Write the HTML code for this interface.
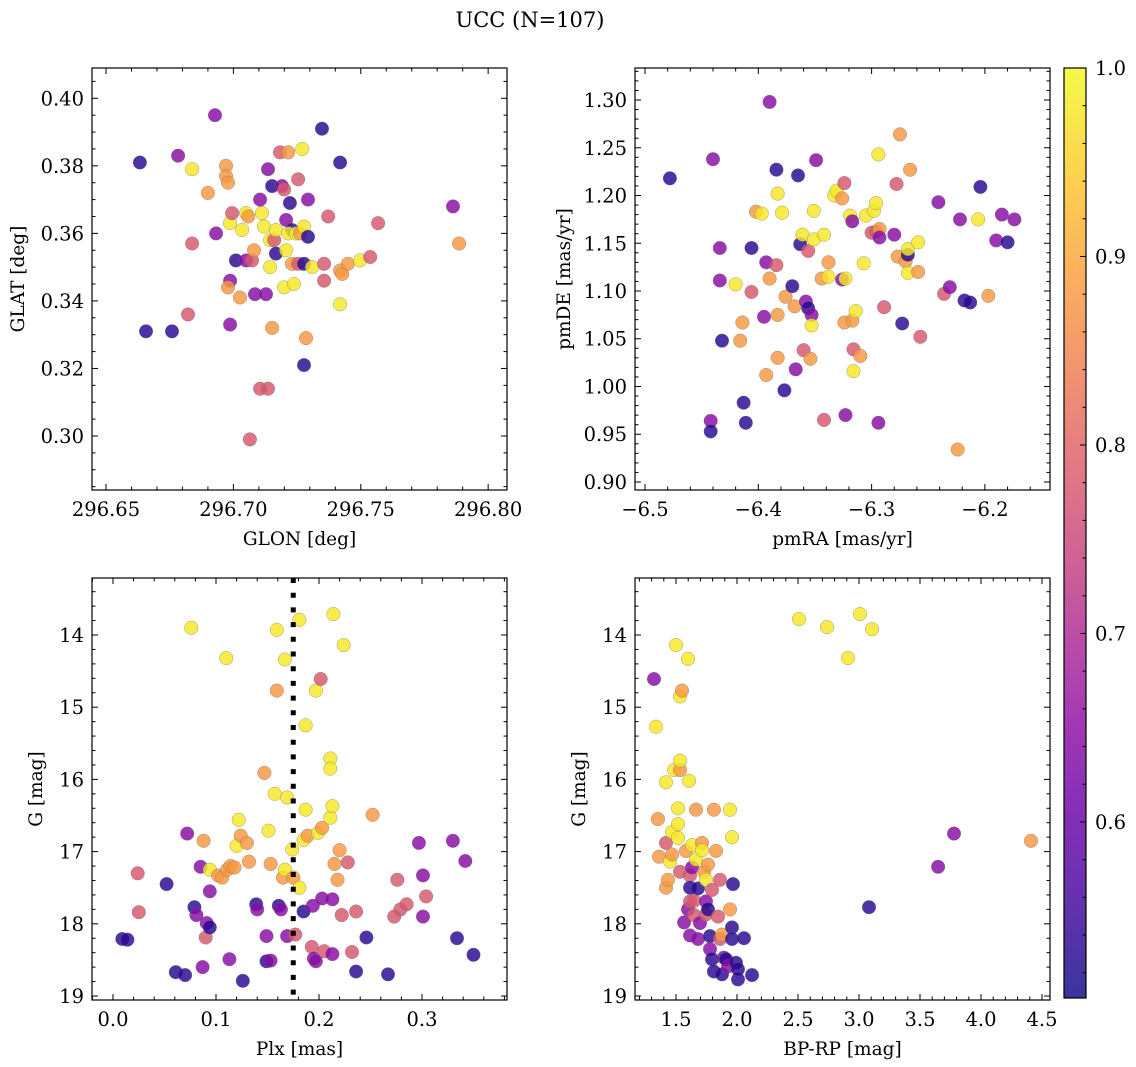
<!DOCTYPE html>
<html><head><meta charset="utf-8"><title>UCC (N=107)</title>
<style>
html,body{margin:0;padding:0;background:#fff;}
svg{display:block;font-family:"DejaVu Serif","Liberation Serif",serif;}
</style></head>
<body>
<svg id="fig" width="1136" height="1067" viewBox="0 0 1136 1067" xmlns="http://www.w3.org/2000/svg">
<text x="530" y="27" text-anchor="middle" font-size="21">UCC (N=107)</text>
</svg>
<script>
// ---- data: membership probability codes ----
const B=0.53,P=0.645,K=0.78,O=0.88,Y=0.98;
// Panel 1: GLON / GLAT
const glon1=[296.6633,296.6657,296.6759,296.6783,296.6838,296.6838,296.6822,296.6900,296.6928,296.6932,296.6971,296.6971,296.6979,296.6987,296.6995,296.6987,296.6979,296.6987,296.7010,296.7026,296.7034,296.7050,296.7058,296.7065,296.7050,296.7073,296.7081,296.7085,296.7105,296.7112,296.7120,296.7105,296.7128,296.7136,296.7144,296.7152,296.7136,296.7152,296.7144,296.7167,296.7160,296.7167,296.7183,296.7191,296.7199,296.7207,296.7215,296.7207,296.7199,296.7222,296.7230,296.7215,296.7230,296.7238,296.7246,296.7254,296.7254,296.7262,296.7270,296.7277,296.7277,296.7285,296.7277,296.7293,296.7293,296.7309,296.7348,296.7356,296.7356,296.7372,296.7419,296.7419,296.7419,296.7427,296.7450,296.7497,296.7537,296.7568,296.7862,296.7886];
const glat1=[0.381,0.331,0.331,0.383,0.379,0.357,0.336,0.372,0.395,0.360,0.380,0.377,0.375,0.363,0.366,0.346,0.344,0.333,0.352,0.341,0.361,0.366,0.365,0.299,0.352,0.352,0.355,0.342,0.370,0.366,0.362,0.314,0.342,0.314,0.358,0.332,0.379,0.374,0.350,0.354,0.358,0.361,0.384,0.374,0.373,0.364,0.384,0.355,0.344,0.369,0.361,0.360,0.351,0.345,0.360,0.376,0.351,0.360,0.385,0.351,0.362,0.329,0.321,0.370,0.359,0.350,0.391,0.351,0.346,0.365,0.381,0.349,0.339,0.348,0.351,0.352,0.353,0.363,0.368,0.357];
const prob1=[B,B,B,P,Y,K,K,O,P,P,O,O,O,Y,K,P,O,P,B,O,Y,Y,O,K,P,K,O,P,P,Y,Y,K,P,K,Y,O,P,B,Y,B,K,Y,K,P,K,P,O,Y,Y,B,B,Y,O,Y,Y,K,K,O,Y,B,Y,O,B,P,B,Y,B,K,K,K,B,O,Y,O,O,Y,K,K,P,O];
// Panel 2: pmRA / pmDE
const pmra2=[-6.478,-6.440,-6.442,-6.442,-6.434,-6.434,-6.432,-6.420,-6.416,-6.414,-6.413,-6.411,-6.406,-6.406,-6.402,-6.397,-6.395,-6.393,-6.393,-6.390,-6.390,-6.384,-6.384,-6.383,-6.383,-6.383,-6.379,-6.377,-6.376,-6.370,-6.368,-6.367,-6.365,-6.363,-6.361,-6.360,-6.358,-6.356,-6.356,-6.354,-6.353,-6.353,-6.351,-6.351,-6.349,-6.344,-6.342,-6.342,-6.338,-6.338,-6.333,-6.331,-6.326,-6.324,-6.326,-6.323,-6.324,-6.323,-6.319,-6.317,-6.317,-6.316,-6.316,-6.314,-6.310,-6.307,-6.305,-6.300,-6.298,-6.296,-6.296,-6.294,-6.294,-6.293,-6.293,-6.289,-6.280,-6.278,-6.277,-6.275,-6.273,-6.270,-6.268,-6.268,-6.268,-6.266,-6.259,-6.259,-6.257,-6.241,-6.236,-6.231,-6.224,-6.222,-6.218,-6.213,-6.206,-6.204,-6.197,-6.190,-6.185,-6.180,-6.174];
const pmde2=[1.218,1.238,0.964,0.953,1.145,1.111,1.048,1.107,1.048,1.067,0.983,0.962,1.099,1.145,1.183,1.181,1.073,1.012,1.130,1.298,1.113,1.227,1.127,1.202,1.075,1.030,1.182,0.996,1.094,1.105,1.084,1.018,1.221,1.149,1.159,1.038,1.089,1.082,1.142,1.029,1.075,1.064,1.184,1.154,1.237,1.113,0.965,1.159,1.115,1.130,1.200,1.205,1.197,1.213,1.112,1.113,1.067,0.970,1.179,1.173,1.069,1.039,1.016,1.079,1.032,1.129,1.179,1.161,1.184,1.192,1.162,1.243,0.962,1.165,1.156,1.083,1.159,1.212,1.136,1.264,1.066,1.131,1.138,1.144,1.119,1.227,1.151,1.120,1.052,1.193,1.097,1.104,0.934,1.175,1.090,1.088,1.175,1.209,1.095,1.153,1.180,1.151,1.175];
const prob2=[B,P,P,B,P,P,B,Y,O,O,B,B,K,B,O,Y,P,O,P,P,O,B,K,Y,O,O,Y,B,O,B,O,P,B,B,Y,K,P,B,K,O,P,Y,Y,Y,P,O,K,Y,Y,O,Y,Y,O,K,P,Y,O,P,Y,P,O,K,Y,Y,O,Y,Y,K,Y,Y,K,Y,P,O,P,K,P,K,O,O,B,O,B,Y,Y,O,Y,O,K,P,K,P,O,P,B,B,Y,B,O,P,P,B,P];
// Panel 3: Plx / G
const plx3=[0.009,0.014,0.024,0.025,0.052,0.061,0.070,0.072,0.076,0.079,0.081,0.085,0.087,0.088,0.090,0.091,0.094,0.094,0.094,0.102,0.106,0.110,0.111,0.113,0.114,0.118,0.120,0.122,0.124,0.126,0.130,0.132,0.139,0.140,0.147,0.149,0.149,0.151,0.153,0.153,0.157,0.159,0.159,0.161,0.163,0.165,0.167,0.167,0.169,0.169,0.174,0.175,0.177,0.181,0.181,0.185,0.185,0.187,0.187,0.189,0.193,0.194,0.195,0.197,0.197,0.199,0.2016,0.203,0.203,0.205,0.211,0.211,0.211,0.213,0.213,0.213,0.214,0.215,0.218,0.220,0.222,0.224,0.228,0.232,0.236,0.236,0.246,0.252,0.267,0.273,0.276,0.279,0.285,0.297,0.301,0.301,0.304,0.330,0.334,0.342,0.350];
const gmag3=[18.21,18.22,17.30,17.84,17.45,18.67,18.71,16.75,13.90,17.77,17.88,17.21,18.60,16.85,18.19,17.99,18.05,17.55,17.25,17.33,17.36,14.32,17.25,18.49,17.20,17.22,16.92,16.56,16.78,18.79,16.88,17.14,17.73,17.80,15.91,18.17,18.52,16.71,18.51,17.17,16.20,13.93,14.77,17.75,17.80,17.36,17.25,14.34,16.25,18.17,16.97,17.36,18.15,13.79,17.50,16.84,17.83,16.42,15.25,16.78,18.32,17.75,18.48,18.52,14.77,16.74,14.61,16.67,17.65,18.38,15.71,15.85,16.53,16.37,17.66,18.42,13.71,17.17,17.39,16.98,17.88,14.14,17.15,18.39,17.83,18.66,18.19,16.49,18.70,17.90,17.39,17.80,17.73,16.88,17.33,17.90,17.62,16.85,18.20,17.13,18.43];
const prob3=[B,B,K,K,B,B,B,P,Y,B,P,P,P,O,K,P,B,P,Y,O,O,Y,O,P,O,O,Y,Y,O,B,O,O,B,P,O,P,B,Y,P,O,Y,Y,O,B,P,O,Y,Y,Y,P,Y,O,K,Y,Y,Y,B,Y,Y,O,K,P,P,P,Y,Y,K,O,P,K,Y,Y,Y,Y,P,P,Y,O,O,O,K,Y,K,K,K,B,B,O,B,K,K,K,K,P,P,P,K,P,B,P,B];
const plxLine=0.175;
// Panel 4: BP-RP / G
const bprp4=[1.320,1.336,1.352,1.361,1.418,1.418,1.418,1.434,1.451,1.467,1.467,1.484,1.500,1.516,1.516,1.516,1.533,1.533,1.533,1.533,1.549,1.566,1.582,1.598,1.598,1.607,1.615,1.615,1.615,1.615,1.631,1.631,1.648,1.648,1.664,1.664,1.680,1.680,1.697,1.713,1.713,1.730,1.746,1.746,1.746,1.762,1.762,1.779,1.779,1.795,1.795,1.811,1.811,1.828,1.844,1.861,1.861,1.877,1.877,1.893,1.910,1.926,1.943,1.943,1.959,1.959,1.967,1.959,1.992,2.008,2.008,2.057,2.123,2.508,2.738,2.910,3.008,3.082,3.107,3.648,3.779,4.410];
const gmag4=[14.61,15.27,16.55,17.07,16.04,16.88,17.50,17.39,17.14,16.73,17.04,15.87,14.14,16.40,16.62,16.81,15.87,15.74,14.85,17.28,14.77,17.98,16.99,14.33,17.80,16.02,18.16,17.33,17.50,17.69,16.91,17.22,17.68,17.88,16.42,17.11,17.51,18.21,17.99,16.88,16.98,17.28,17.39,17.69,17.87,17.18,17.80,18.17,18.35,18.49,17.53,16.42,18.66,16.99,17.90,18.21,17.39,18.15,18.70,18.47,18.49,18.59,17.80,16.42,18.05,18.21,17.45,16.80,18.54,18.77,18.63,18.20,18.71,13.78,13.89,14.32,13.71,17.77,13.92,17.21,16.75,16.85];
const prob4=[P,Y,O,O,Y,K,O,O,Y,Y,O,Y,Y,Y,Y,Y,O,Y,Y,K,O,P,O,Y,P,Y,P,K,B,K,Y,P,K,K,O,Y,B,P,P,O,Y,O,Y,P,K,O,B,B,P,B,K,O,B,O,K,K,K,O,B,P,B,P,O,Y,B,B,B,Y,B,B,B,B,B,Y,Y,Y,Y,B,Y,P,P,O];
// Colorbar
const cbTicks=[0.6,0.7,0.8,0.9,1.0];
const vmin=0.5066, vmax=1.0;

const NS="http://www.w3.org/2000/svg";
const svg=document.getElementById('fig');
function mk(tag,attrs,parent){const e=document.createElementNS(NS,tag);for(const k in attrs)e.setAttribute(k,attrs[k]);(parent||svg).appendChild(e);return e;}

const plasma=[[13,8,135],[65,4,157],[106,0,168],[143,13,164],[177,42,144],[204,71,120],[225,100,98],[242,132,75],[252,166,54],[252,206,37],[240,249,33]];
function cmap(v){let t=(v-vmin)/(vmax-vmin);t=Math.max(0,Math.min(1,t))*10;const i=Math.min(9,Math.floor(t)),f=t-i;const a=plasma[i],b=plasma[i+1];return 'rgb('+[0,1,2].map(k=>Math.round(a[k]+(b[k]-a[k])*f)).join(',')+')';}

function fmt(v,d){let s=v.toFixed(d);if(v<0)s='\u2212'+s.slice(1);return s;}
const TFS=19.5, LFS=18.5;

function panel(cfg){
  const g=mk('g',{});
  
  
  const sx=v=>cfg.x0+(v-cfg.xmin)/(cfg.xmax-cfg.xmin)*(cfg.x1-cfg.x0);
  const sy=cfg.invert?(v=>cfg.y0+(v-cfg.ymin)/(cfg.ymax-cfg.ymin)*(cfg.y1-cfg.y0)):(v=>cfg.y1-(v-cfg.ymin)/(cfg.ymax-cfg.ymin)*(cfg.y1-cfg.y0));
  const pg=mk('g',{},g);
  
  
  for(let i=0;i<cfg.xs.length;i++){
    const c=mk('circle',{cx:sx(cfg.xs[i]).toFixed(1),cy:sy(cfg.ys[i]).toFixed(1),r:6.8,fill:cmap(cfg.cs[i]),'fill-opacity':0.82,stroke:'#6a6a6a','stroke-width':0.45,'stroke-opacity':0.7},pg);
    
    
  }
  if(cfg.vline!==undefined){
    const l=mk('line',{x1:sx(cfg.vline),x2:sx(cfg.vline),y1:cfg.y0,y2:cfg.y1,stroke:'#000','stroke-width':5,'stroke-dasharray':'5 9.7'},g);
    
    
  }
  const fr=mk('rect',{x:cfg.x0,y:cfg.y0,width:cfg.x1-cfg.x0,height:cfg.y1-cfg.y0,fill:'none',stroke:'#000','stroke-width':1.2},g);
  
  
  const tg=mk('g',{stroke:'#000','stroke-width':1},g);
  
  
  const eps=1e-9;
  for(let v=Math.ceil(cfg.xmin/cfg.xminor-eps)*cfg.xminor;v<=cfg.xmax+eps;v+=cfg.xminor){
    const px=sx(v);const isMaj=Math.abs(v/cfg.xmajor-Math.round(v/cfg.xmajor))<1e-4;const L=isMaj?6:3.5;
    mk('line',{x1:px,x2:px,y1:cfg.y1,y2:cfg.y1-L},tg);mk('line',{x1:px,x2:px,y1:cfg.y0,y2:cfg.y0+L},tg);
    if(isMaj){const t=mk('text',{x:px,y:cfg.y1+26,'text-anchor':'middle','font-size':TFS,stroke:'none',fill:'#000'},g);t.textContent=fmt(v,cfg.xdec);
      
      }
  }
  for(let v=Math.ceil(cfg.ymin/cfg.yminor-eps)*cfg.yminor;v<=cfg.ymax+eps;v+=cfg.yminor){
    const py=sy(v);const isMaj=Math.abs(v/cfg.ymajor-Math.round(v/cfg.ymajor))<1e-4;const L=isMaj?6:3.5;
    mk('line',{x1:cfg.x0,x2:cfg.x0+L,y1:py,y2:py},tg);mk('line',{x1:cfg.x1,x2:cfg.x1-L,y1:py,y2:py},tg);
    if(isMaj){const t=mk('text',{x:cfg.x0-8,y:py+7,'text-anchor':'end','font-size':TFS,stroke:'none',fill:'#000'},g);t.textContent=fmt(v,cfg.ydec);
      
      }
  }
  const xl=mk('text',{x:(cfg.x0+cfg.x1)/2,y:cfg.y1+55,'text-anchor':'middle','font-size':LFS},g);xl.textContent=cfg.xlabel;
  
  
  const yx=cfg.ylx, yy=(cfg.y0+cfg.y1)/2;
  const yl=mk('text',{x:yx,y:yy,'text-anchor':'middle','font-size':LFS,transform:'rotate(-90 '+yx+' '+yy+')'},g);yl.textContent=cfg.ylabel;
  
  
}

panel({name:'glon-glat-panel',x0:92,x1:507,y0:68,y1:490,xmin:296.6445,xmax:296.8074,ymin:0.28401,ymax:0.40897,xmajor:0.05,xminor:0.01,ymajor:0.02,yminor:0.005,xdec:2,ydec:2,xs:glon1,ys:glat1,cs:prob1,xlabel:'GLON [deg]',ylabel:'GLAT [deg]',ylx:24});
panel({name:'pm-panel',x0:635,x1:1050,y0:68,y1:490,xmin:-6.50883,xmax:-6.14254,ymin:0.89162,ymax:1.33351,xmajor:0.1,xminor:0.02,ymajor:0.05,yminor:0.01,xdec:1,ydec:2,xs:pmra2,ys:pmde2,cs:prob2,xlabel:'pmRA [mas/yr]',ylabel:'pmDE [mas/yr]',ylx:570});
panel({name:'plx-g-panel',x0:92,x1:507,y0:578,y1:1000,xmin:-0.02039,xmax:0.38252,ymin:13.2105,ymax:19.0554,invert:true,xmajor:0.1,xminor:0.02,ymajor:1,yminor:0.2,xdec:1,ydec:0,xs:plx3,ys:gmag3,cs:prob3,vline:plxLine,xlabel:'Plx [mas]',ylabel:'G [mag]',ylx:42});
panel({name:'cmd-panel',x0:635,x1:1050,y0:578,y1:1000,xmin:1.1639,xmax:4.5656,ymin:13.2105,ymax:19.0554,invert:true,xmajor:0.5,xminor:0.1,ymajor:1,yminor:0.2,xdec:1,ydec:0,xs:bprp4,ys:gmag4,cs:prob4,xlabel:'BP-RP [mag]',ylabel:'G [mag]',ylx:585});

(function(){
  const cx0=1064,cx1=1086,cy0=68,cy1=998;
  const defs=mk('defs',{});
  const lg=mk('linearGradient',{id:'cbgrad',x1:0,y1:1,x2:0,y2:0},defs);
  for(let i=0;i<=20;i++){const v=vmin+(vmax-vmin)*i/20;mk('stop',{offset:(i/20).toFixed(3),'stop-color':cmap(v)},lg);}
  const g=mk('g',{});
  
  
  mk('rect',{x:cx0,y:cy0,width:cx1-cx0,height:cy1-cy0,fill:'url(#cbgrad)','fill-opacity':0.82},g);
  mk('rect',{x:cx0,y:cy0,width:cx1-cx0,height:cy1-cy0,fill:'none',stroke:'#000','stroke-width':1.2},g);
  const sy=v=>cy1-(v-vmin)/(vmax-vmin)*(cy1-cy0);
  for(let v=0.52;v<=1.0001;v+=0.02){const py=sy(v);const maj=Math.abs(v*10-Math.round(v*10))<1e-4;
    mk('line',{x1:cx1,x2:cx1-(maj?6:3.5),y1:py,y2:py,stroke:'#000','stroke-width':1},g);}
  for(const v of cbTicks){const t=mk('text',{x:cx1+9,y:sy(v)+7,'font-size':TFS},g);t.textContent=v.toFixed(1);
    
    }
})();
</script>
</body></html>
